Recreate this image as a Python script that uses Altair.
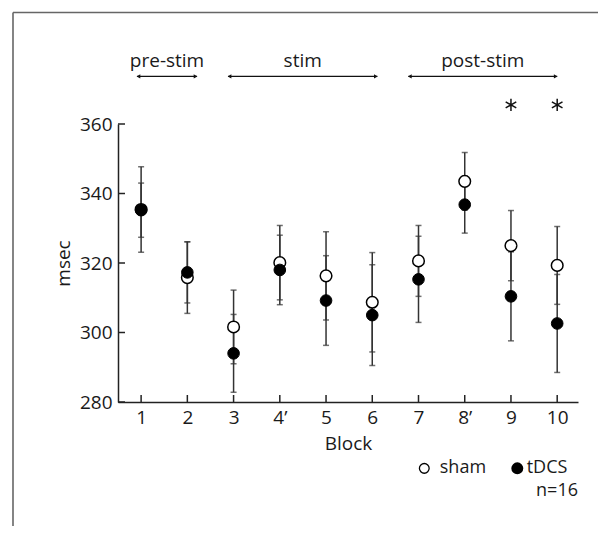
import altair as alt
import pandas as pd

# ---- data ----
blocks = [1, 2, 3, 4, 5, 6, 7, 8, 9, 10]
block_labels = ["1", "2", "3", "4’", "5", "6", "7", "8’", "9", "10"]
sham_mean = [335.4, 315.8, 301.6, 320.1, 316.3, 308.7, 320.6, 343.5, 325.0, 319.3]
sham_err = [12.3, 10.3, 10.6, 10.7, 12.7, 14.3, 10.2, 8.3, 10.1, 11.2]
tdcs_mean = [335.2, 317.3, 294.0, 318.0, 309.2, 305.0, 315.3, 336.8, 310.4, 302.6]
tdcs_err = [7.8, 8.8, 11.2, 10.0, 12.9, 14.5, 12.4, 8.2, 12.8, 14.1]

periods = ["pre-stim", "stim", "post-stim"]
period_start = [0.91, 2.88, 6.78]
period_end = [2.21, 6.11, 10.0]
sig_blocks = [9, 10]
y_ticks = [280, 300, 320, 340, 360]

FONT = "Open Sans"
FS = 19
LFS = 18
W, H = 460, 278
PAD = {"left": 110, "top": 116, "right": 20, "bottom": 124}

rows = []
for i, b in enumerate(blocks):
    rows.append({"block": b, "group": "sham", "mean": sham_mean[i],
                 "lo": sham_mean[i] - sham_err[i], "hi": sham_mean[i] + sham_err[i]})
for i, b in enumerate(blocks):
    rows.append({"block": b, "group": "tDCS", "mean": tdcs_mean[i],
                 "lo": tdcs_mean[i] - tdcs_err[i], "hi": tdcs_mean[i] + tdcs_err[i]})
df = pd.DataFrame(rows)
sham_df = df[df.group == "sham"]
tdcs_df = df[df.group == "tDCS"]
per_df = pd.DataFrame({"period": periods, "start": period_start, "end": period_end})
sig_df = pd.DataFrame({"block": sig_blocks})
yt_df = pd.DataFrame({"v": y_ticks})
xt_df = pd.DataFrame({"b": blocks})
one = pd.DataFrame({"a": [0]})

xscale = alt.Scale(domain=[0.5, 10.45], nice=False, zero=False)
yscale = alt.Scale(domain=[280, 360], nice=False, zero=False)
label_expr = "[" + ",".join("'" + l + "'" for l in block_labels) + "][datum.value - 1]"

x_axis = alt.Axis(values=blocks, labelExpr=label_expr, title="Block", ticks=False, tickSize=0,
                  labelPadding=6, grid=False, domainColor="#222", domainWidth=1.5,
                  labelFont=FONT, labelFontSize=FS, labelColor="#1a1a1a",
                  titleFont=FONT, titleFontSize=FS, titleFontWeight="normal", titleColor="#1a1a1a",
                  titleY=41, titleBaseline="middle")
y_axis = alt.Axis(values=y_ticks, title="msec", ticks=False, tickSize=0, labelPadding=6,
                  grid=False, domainColor="#222", domainWidth=1.5,
                  labelFont=FONT, labelFontSize=FS, labelColor="#1a1a1a",
                  titleFont=FONT, titleFontSize=FS, titleFontWeight="normal", titleColor="#1a1a1a",
                  titleAngle=-90, titleX=-55, titleY=H / 2, titleBaseline="middle", titleAlign="center")


def X(f):
    return alt.X(f, scale=xscale, axis=x_axis)


def Y(f):
    return alt.Y(f, scale=yscale, axis=y_axis)


def XD(v):
    return alt.X(datum=v, scale=xscale, axis=x_axis)


def YD(v):
    return alt.Y(datum=v, scale=yscale, axis=y_axis)


# inward ticks
ytick_layer = alt.Chart(yt_df).mark_rule(color="#222", strokeWidth=1.5).encode(
    y=Y("v:Q"), x=alt.value(0), x2=alt.value(7))
xtick_layer = alt.Chart(xt_df).mark_rule(color="#222", strokeWidth=1.5).encode(
    x=X("b:Q"), y=alt.value(H), y2=alt.value(H - 7))

# error bars
bars = alt.Chart(df).mark_rule(color="#333", strokeWidth=1.5).encode(
    x=X("block:Q"), y=Y("lo:Q"), y2="hi:Q")
cap_lo = alt.Chart(df).mark_tick(orient="horizontal", size=6, thickness=1.5, color="#333").encode(
    x=X("block:Q"), y=Y("lo:Q"))
cap_hi = alt.Chart(df).mark_tick(orient="horizontal", size=6, thickness=1.5, color="#333").encode(
    x=X("block:Q"), y=Y("hi:Q"))

sham_pts = alt.Chart(sham_df).mark_point(shape="circle", filled=True, fill="white", stroke="black",
                                         strokeWidth=1.5, size=135, opacity=1).encode(
    x=X("block:Q"), y=Y("mean:Q"))
tdcs_pts = alt.Chart(tdcs_df).mark_point(shape="circle", filled=True, fill="black", stroke="black",
                                         strokeWidth=1, size=135, opacity=1).encode(
    x=X("block:Q"), y=Y("mean:Q"))

# period annotations
arrows = alt.Chart(per_df).mark_rule(color="#111", strokeWidth=1.2).encode(
    x=X("start:Q"), x2="end:Q", y=YD(373.7))
head_l = alt.Chart(per_df).mark_point(shape="triangle-left", filled=True, size=18, color="#111",
                                      opacity=1, xOffset=1.5).encode(
    x=X("start:Q"), y=YD(373.7))
head_r = alt.Chart(per_df).mark_point(shape="triangle-right", filled=True, size=18, color="#111",
                                      opacity=1, xOffset=-1.5).encode(
    x=X("end:Q"), y=YD(373.7))
per_text = alt.Chart(per_df).transform_calculate(mid="(datum.start + datum.end) / 2").mark_text(
    font=FONT, fontSize=FS, baseline="middle", align="center", color="#1a1a1a").encode(
    x=X("mid:Q"), y=YD(378.2), text="period:N")

star_path = "M0,-1L0,1M-0.866,-0.5L0.866,0.5M-0.866,0.5L0.866,-0.5"
stars = alt.Chart(sig_df).mark_point(shape=star_path, filled=False, size=150, strokeWidth=1.5,
                                     color="#111", opacity=1).encode(
    x=X("block:Q"), y=YD(365.5))

# manual legend
leg_sham = alt.Chart(one).mark_point(shape="circle", filled=True, fill="white", stroke="black",
                                     strokeWidth=1.3, size=95, opacity=1).encode(
    x=XD(7.125), y=YD(260.9))
leg_tdcs = alt.Chart(one).mark_point(shape="circle", filled=True, fill="black", stroke="black",
                                     size=100, opacity=1).encode(
    x=XD(9.137), y=YD(260.9))
leg_t1 = alt.Chart(one).mark_text(font=FONT, fontSize=LFS, align="left", baseline="middle",
                                  color="#1a1a1a", text="sham").encode(
    x=XD(7.46), y=YD(260.9))
leg_t2 = alt.Chart(one).mark_text(font=FONT, fontSize=LFS, align="left", baseline="middle",
                                  color="#1a1a1a", text="tDCS").encode(
    x=XD(9.34), y=YD(260.9))
leg_n = alt.Chart(one).mark_text(font=FONT, fontSize=LFS, align="right", baseline="middle",
                                 color="#1a1a1a", text="n=16").encode(
    x=XD(10.45), y=YD(254.4))

# outer frame (top and left edges)
frame_top = alt.Chart(one).mark_rule(color="#666", strokeWidth=1.6).encode(
    x=alt.value(-105), x2=alt.value(W + PAD["right"]), y=alt.value(-111.5))
frame_left = alt.Chart(one).mark_rule(color="#666", strokeWidth=1.6).encode(
    x=alt.value(-105), y=alt.value(-111.5), y2=alt.value(H + PAD["bottom"]))

chart = alt.layer(
    frame_top, frame_left, ytick_layer, xtick_layer,
    bars, cap_lo, cap_hi, sham_pts, tdcs_pts,
    arrows, head_l, head_r, per_text, stars,
    leg_sham, leg_tdcs, leg_t1, leg_t2, leg_n,
).properties(
    width=W, height=H, padding=PAD, autosize=alt.AutoSizeParams(type="none"),
    background="white",
).configure_view(stroke=None)

chart.save("out.html", embed_options={"renderer": "svg", "actions": False})
